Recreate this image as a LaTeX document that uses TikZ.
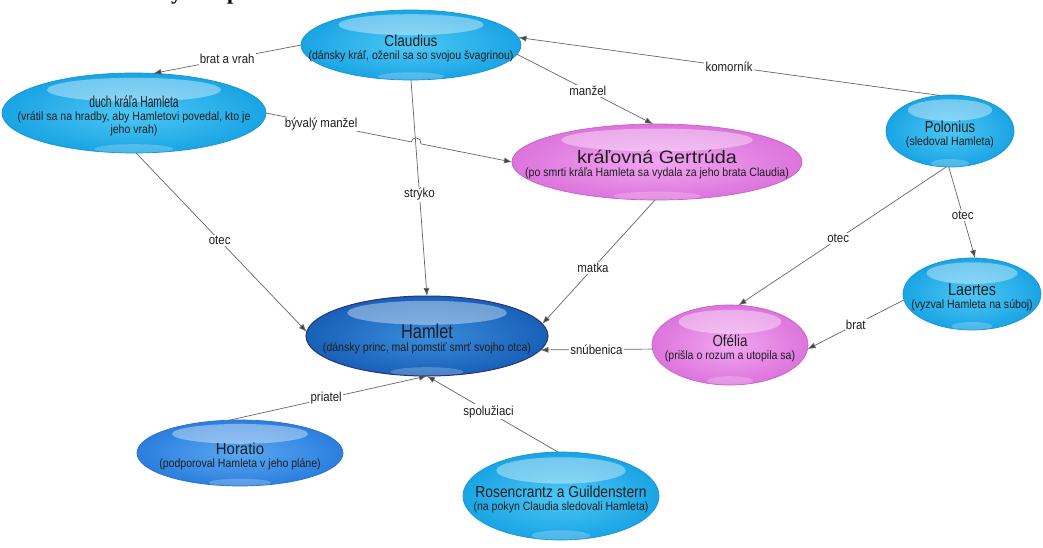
\documentclass[tikz,border=0pt]{standalone}
\usepackage{fontspec}
\usepackage{graphicx}
\setmainfont[FakeStretch=0.88]{Liberation Sans}
\newfontfamily\titlefont{Liberation Serif}
\usetikzlibrary{shapes.geometric,arrows.meta}
\definecolor{cyI}{HTML}{4CC8F5}
\definecolor{cyO}{HTML}{1AA4E4}
\definecolor{cyD}{HTML}{1896D4}
\definecolor{piI}{HTML}{F2A6F2}
\definecolor{piO}{HTML}{DC74DC}
\definecolor{piD}{HTML}{C862C8}
\definecolor{haI}{HTML}{3A8DDC}
\definecolor{haO}{HTML}{1860B8}
\definecolor{haD}{HTML}{2A3470}
\definecolor{hoI}{HTML}{58A8F2}
\definecolor{hoO}{HTML}{2C7EDE}
\definecolor{hoD}{HTML}{2874CC}
\definecolor{lnC}{HTML}{666666}
\definecolor{arC}{HTML}{444444}
\definecolor{txC}{HTML}{1F1F1F}
\newcommand\ttl[3]{\scalebox{#2}[1]{\fontsize{#1}{#1}\selectfont #3}}
\tikzset{
  bub/.style 2 args={ellipse, minimum width=2*#1, minimum height=2*#2,
    inner sep=0pt, outer sep=0pt,
    path picture={
      \fill[white,opacity=.38] ([yshift=-0.42*#2]path picture bounding box.north)
        ellipse [x radius=0.66*#1, y radius=0.3*#2];
      \fill[white,opacity=.22] ([yshift=0.1*#2]path picture bounding box.south)
        ellipse [x radius=0.3*#1, y radius=0.12*#2];
    }},
  nt/.style={align=center, text=txC, inner sep=0pt, yshift=-3pt,
    font=\fontsize{12}{13}\selectfont},
  cyanb/.style={draw=cyD, line width=.7pt, inner color=cyI, outer color=cyO},
  pinkb/.style={draw=piD, line width=.7pt, inner color=piI, outer color=piO},
  hamb/.style={draw=haD, line width=1pt, inner color=haI, outer color=haO},
  horb/.style={draw=hoD, line width=.7pt, inner color=hoI, outer color=hoO},
  con/.style={draw=lnC, line width=.7pt, -{Latex[length=8pt,width=6pt,fill=arC]}},
  lbl/.style={fill=white, inner sep=1.2pt, text=txC, font=\fontsize{13}{14}\selectfont}
}
\begin{document}
\begin{tikzpicture}[x=1pt,y=-1pt]
\useasboundingbox (0,0) rectangle (1043,548);
\fill[white] (0,0) rectangle (1043,548);
\node[anchor=base west, inner sep=0pt, font=\titlefont\bfseries\fontsize{22}{22}\selectfont] (title) at (171,-0.5) {y\hspace{45pt}p};

\node[bub={110pt}{35pt}, cyanb, label={[nt]center:{\ttl{16}{.97}{Claudius}\\(dánsky kráľ, oženil sa so svojou švagrinou)}}] (cla) at (411,45) {};
\node[bub={132pt}{40pt}, cyanb, label={[nt]center:{\ttl{16}{.73}{duch kráľa Hamleta}\\(vrátil sa na hradby, aby Hamletovi povedal, kto je\\jeho vrah)}}] (duch) at (134,113) {};
\node[bub={145pt}{38pt}, pinkb, label={[nt]center:{\ttl{18}{1.25}{kráľovná Gertrúda}\\(po smrti kráľa Hamleta sa vydala za jeho brata Claudia)}}] (ger) at (657,162) {};
\node[bub={64pt}{36pt}, cyanb, label={[nt]center:{\ttl{16}{.93}{Polonius}\\(sledoval Hamleta)}}] (pol) at (950,131) {};
\node[bub={69pt}{36pt}, cyanb, label={[nt]center:{\ttl{17}{.96}{Laertes}\\(vyzval Hamleta na súboj)}}] (lae) at (972,294) {};
\node[bub={121pt}{40pt}, hamb, label={[nt]center:{\ttl{20}{.93}{Hamlet}\\(dánsky princ, mal pomstiť smrť svojho otca)}}] (ham) at (427,336) {};
\node[bub={78pt}{40pt}, pinkb, label={[nt]center:{\ttl{16}{.95}{Ofélia}\\(prišla o rozum a utopila sa)}}] (ofe) at (730,345) {};
\node[bub={103pt}{33pt}, horb, label={[nt]center:{\ttl{16}{1.06}{Horatio}\\(podporoval Hamleta v jeho pláne)}}] (hor) at (240,453) {};
\node[bub={98pt}{44pt}, cyanb, label={[nt]center:{\ttl{16}{.98}{Rosencrantz a Guildenstern}\\(na pokyn Claudia sledovali Hamleta)}}] (ros) at (561,496) {};

\coordinate (hopA) at (411.1,141.9);

\draw[con] (cla.180) -- node[lbl]{brat a vrah} (duch.64);
\draw[con] (cla.-5) -- node[lbl,pos=.52]{manžel} (ger.96);
\draw[con] (pol.106) -- node[lbl,pos=.5]{komorník} (cla.4);
\draw[con] (cla.south) -- node[lbl,pos=.53]{strýko} (ham.north);
\draw[con] (duch.east) -- node[lbl,pos=.38]{bývalý manžel} (hopA)
  arc[start angle=191.3, end angle=371.3, radius=5] -- (ger.west);
\draw[con] (duch.-87) -- node[lbl,pos=.49]{otec} (ham.178);
\draw[con] (ger.-93) -- node[lbl,pos=.55]{matka} (ham.6);
\draw[con] (pol.-96) -- node[lbl,pos=.52]{otec} (ofe.78);
\draw[con] (pol.-92) -- node[lbl,pos=.53]{otec} (lae.85);
\draw[con] (lae.-175) -- node[lbl,pos=.5]{brat} (ofe.-3);
\draw[con] (ofe.183) -- node[lbl,pos=.5]{snúbenica} (ham.-7);
\draw[con] (hor.108) -- node[lbl,pos=.49]{priatel} (ham.south);
\draw[con] (ros.94) -- node[lbl,pos=.53]{spolužiaci} (ham.south);
\end{tikzpicture}
\end{document}
